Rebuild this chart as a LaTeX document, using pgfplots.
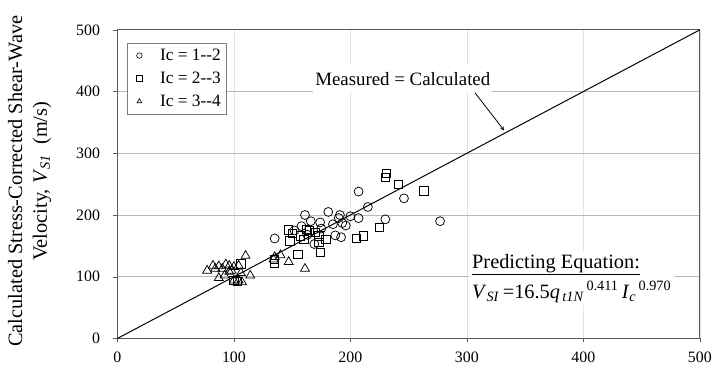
\documentclass[border=0pt]{standalone}
\usepackage{fontspec}
\setmainfont{Liberation Serif}
\usepackage{pgfplots}
\pgfplotsset{compat=1.18}
\begin{document}
\begin{tikzpicture}
\begin{axis}[
  scale only axis, width=585bp, height=310bp,
  xmin=0, xmax=500, ymin=0, ymax=500,
  xtick={0,100,200,300,400,500}, ytick={0,100,200,300,400,500},
  /pgf/number format/assume math mode=true,
  ticklabel style={font=\fontsize{16}{18}\selectfont},
  yticklabel style={xshift=-10bp},
  xticklabel style={yshift=-6bp},
  grid=major,
  x grid style={gray!22, line width=0.6pt},
  y grid style={gray!55, line width=0.9pt},
  axis line style={gray!70!black, line width=0.8pt},
  tick style={gray!70!black},
  tick align=outside, major tick length=4bp,
  xtick pos=bottom, ytick pos=left,
  ylabel={Calculated Stress-Corrected Shear-Wave\\Velocity, \textit{V}\textsubscript{\textit{S1}}~ (m/s)},
  ylabel style={at={(axis description cs:0,0.5)}, anchor=south, yshift=63bp, xshift=3bp,
    align=center, font=\fontsize{20.5}{25}\selectfont},
  legend style={at={(0.017,0.958)}, anchor=north west, draw=gray, line width=0.6pt,
    font=\fontsize{17.5}{19}\selectfont, row sep=6bp, inner xsep=3bp, inner ysep=4bp},
  legend cell align=left,
  legend image code/.code={\path (0cm,0cm) (0.95cm,0cm);\draw[mark size=2.8pt, mark options={line width=0.6pt}] plot coordinates {(0.3cm,0cm)};},
]
\addplot[only marks, mark=o, mark size=4.5pt, black, mark options={line width=0.75pt}] coordinates {
(135,162) (161,200) (181,205) (166,190) (174,188) (191,200) (190,195) (193,187)
(196,183) (207,238) (215,213) (207,195) (230,193) (187,167) (192,164) (169,153)
(246,227) (277,190) (152,175) (163,168) (175,178) (200,198) (185,185) (158,182)
};
\addlegendentry{Ic = 1-{}-2}
\addplot[only marks, mark=square, mark size=4.2pt, black, mark options={line width=0.75pt}] coordinates {
(135,128) (135,122) (147,176) (148,158) (157,166) (162,177) (165,175) (173,166)
(179,161) (173,156) (155,136) (174,140) (205,162) (211,166) (225,180) (231,268)
(230,261) (241,250) (263,239) (106,121) (100,94) (103,92) (160,160) (150,170)
(170,172)
};
\addlegendentry{Ic = 2-{}-3}
\addplot[only marks, mark=triangle, mark size=5.2pt, black, mark options={line width=0.75pt}] coordinates {
(77,110) (84,113) (87,117) (90,113) (96,118) (104,118) (110,134) (114,102)
(87,98) (92,102) (96,108) (98,110) (100,94) (104,94) (107,91) (106,106)
(82,118) (93,120) (100,116) (135,132) (140,135) (147,124) (161,113) (134,128)
};
\addlegendentry{Ic = 3-{}-4}
\addplot[black, line width=1pt, forget plot] coordinates {(0,0) (500,500)};
\node[font=\fontsize{19}{22}\selectfont, fill=white, inner xsep=2bp, inner ysep=7bp] at (axis cs:245,421) {Measured = Calculated};
\draw[->, >=stealth, line width=0.8pt] (axis cs:307,398) -- (axis cs:332,337);
\node[fill=white, align=left, inner sep=3bp] at (axis cs:390,97) {%
  {\fontsize{20.5}{24}\selectfont\underline{Predicting Equation:}}\\[5bp]
  {\fontsize{20.5}{24}\selectfont\textit{V}\textsubscript{\textit{SI}}\,=16.5\textit{q}\textsubscript{\,\textit{t1N}}\textsuperscript{\,0.411}\,\textit{I}\textsubscript{\textit{c}}\textsuperscript{\,0.970}}};
\end{axis}
\path (current axis.south west) ++(-118bp,-40bp);
\path (current axis.north east) ++(12bp,30bp);
\end{tikzpicture}
\end{document}
